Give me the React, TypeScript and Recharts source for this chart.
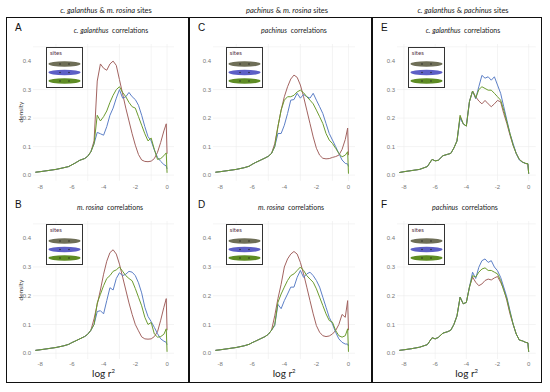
import React from "react";
import { LineChart, Line, XAxis, YAxis, CartesianGrid } from "recharts";

// x positions (log r^2) at which the density curves were read
const logR2 = [-8.3, -8, -7.5, -7, -6.5, -6.2, -6, -5.8, -5.5, -5.2, -5, -4.8, -4.6, -4.4, -4.2, -4, -3.8, -3.6, -3.4, -3.2, -3, -2.8, -2.6, -2.4, -2.2, -2, -1.8, -1.6, -1.4, -1.2, -1, -0.8, -0.6, -0.4, -0.2, -0.05, 0];

const xTicks = [-8, -6, -4, -2, 0];
const yTicks = [0, 0.1, 0.2, 0.3, 0.4];

// A: c. galanthus correlations (c. galanthus & m. rosina sites)
const aBrown = [0.010, 0.012, 0.016, 0.020, 0.026, 0.030, 0.036, 0.042, 0.052, 0.058, 0.066, 0.082, 0.12, 0.33, 0.39, 0.375, 0.368, 0.39, 0.40, 0.385, 0.335, 0.285, 0.235, 0.19, 0.145, 0.105, 0.072, 0.053, 0.048, 0.047, 0.049, 0.058, 0.08, 0.115, 0.155, 0.18, 0.075];
const aBlue = [0.010, 0.012, 0.016, 0.020, 0.026, 0.030, 0.036, 0.042, 0.052, 0.058, 0.066, 0.082, 0.11, 0.15, 0.145, 0.14, 0.17, 0.21, 0.235, 0.27, 0.30, 0.27, 0.275, 0.29, 0.275, 0.265, 0.245, 0.21, 0.17, 0.135, 0.12, 0.088, 0.062, 0.048, 0.037, 0.032, 0.022];
const aGreen = [0.010, 0.012, 0.016, 0.020, 0.026, 0.030, 0.036, 0.042, 0.052, 0.058, 0.066, 0.082, 0.11, 0.21, 0.19, 0.205, 0.225, 0.255, 0.28, 0.30, 0.31, 0.29, 0.275, 0.255, 0.24, 0.235, 0.205, 0.175, 0.145, 0.12, 0.13, 0.09, 0.055, 0.058, 0.068, 0.078, 0.008];

// B: m. rosina correlations (c. galanthus & m. rosina sites)
const bBrown = [0.010, 0.012, 0.016, 0.020, 0.026, 0.031, 0.037, 0.042, 0.050, 0.058, 0.066, 0.080, 0.12, 0.17, 0.22, 0.275, 0.32, 0.35, 0.36, 0.345, 0.31, 0.265, 0.22, 0.175, 0.135, 0.10, 0.078, 0.057, 0.05, 0.049, 0.05, 0.058, 0.075, 0.115, 0.16, 0.19, 0.08];
const bBlue = [0.010, 0.012, 0.016, 0.020, 0.026, 0.031, 0.037, 0.042, 0.050, 0.058, 0.066, 0.080, 0.10, 0.145, 0.148, 0.137, 0.183, 0.228, 0.22, 0.26, 0.28, 0.27, 0.275, 0.285, 0.282, 0.27, 0.245, 0.21, 0.16, 0.128, 0.11, 0.09, 0.068, 0.05, 0.042, 0.038, 0.03];
const bGreen = [0.010, 0.012, 0.016, 0.020, 0.026, 0.031, 0.037, 0.042, 0.050, 0.058, 0.066, 0.080, 0.10, 0.175, 0.205, 0.235, 0.26, 0.27, 0.285, 0.29, 0.30, 0.285, 0.27, 0.26, 0.252, 0.225, 0.195, 0.165, 0.125, 0.10, 0.107, 0.067, 0.056, 0.058, 0.066, 0.085, 0.005];

// C: pachinus correlations (pachinus & m. rosina sites)
const cBrown = [0.010, 0.012, 0.016, 0.020, 0.026, 0.031, 0.038, 0.044, 0.052, 0.060, 0.066, 0.076, 0.11, 0.17, 0.228, 0.275, 0.31, 0.337, 0.351, 0.343, 0.316, 0.275, 0.228, 0.181, 0.134, 0.094, 0.07, 0.059, 0.057, 0.058, 0.062, 0.065, 0.07, 0.09, 0.125, 0.165, 0.07];
const cBlue = [0.010, 0.012, 0.016, 0.020, 0.026, 0.031, 0.038, 0.044, 0.052, 0.060, 0.066, 0.076, 0.10, 0.146, 0.146, 0.175, 0.216, 0.263, 0.265, 0.287, 0.27, 0.283, 0.275, 0.27, 0.287, 0.263, 0.24, 0.216, 0.181, 0.146, 0.123, 0.10, 0.076, 0.053, 0.041, 0.039, 0.03];
const cGreen = [0.010, 0.012, 0.016, 0.020, 0.026, 0.031, 0.038, 0.044, 0.052, 0.060, 0.066, 0.076, 0.10, 0.17, 0.228, 0.263, 0.275, 0.275, 0.28, 0.292, 0.298, 0.289, 0.275, 0.263, 0.25, 0.228, 0.205, 0.181, 0.146, 0.123, 0.111, 0.094, 0.076, 0.064, 0.07, 0.082, 0.005];

// D: m. rosina correlations (pachinus & m. rosina sites)
const dBrown = [0.010, 0.012, 0.016, 0.020, 0.026, 0.031, 0.037, 0.042, 0.050, 0.058, 0.066, 0.080, 0.13, 0.19, 0.24, 0.30, 0.328, 0.345, 0.354, 0.345, 0.316, 0.276, 0.23, 0.183, 0.137, 0.096, 0.073, 0.061, 0.058, 0.06, 0.067, 0.079, 0.10, 0.135, 0.125, 0.183, 0.08];
const dBlue = [0.010, 0.012, 0.016, 0.020, 0.026, 0.031, 0.037, 0.042, 0.050, 0.058, 0.066, 0.080, 0.096, 0.17, 0.155, 0.183, 0.206, 0.23, 0.23, 0.264, 0.288, 0.264, 0.276, 0.282, 0.27, 0.253, 0.23, 0.195, 0.16, 0.125, 0.102, 0.073, 0.05, 0.038, 0.032, 0.032, 0.025];
const dGreen = [0.010, 0.012, 0.016, 0.020, 0.026, 0.031, 0.037, 0.042, 0.050, 0.058, 0.066, 0.080, 0.10, 0.177, 0.206, 0.23, 0.253, 0.27, 0.276, 0.288, 0.30, 0.288, 0.27, 0.258, 0.247, 0.224, 0.195, 0.166, 0.137, 0.114, 0.108, 0.079, 0.061, 0.056, 0.061, 0.085, 0.005];

// E: c. galanthus correlations (c. galanthus & pachinus sites)
const eBrown = [0.009, 0.012, 0.016, 0.020, 0.030, 0.055, 0.050, 0.052, 0.068, 0.073, 0.076, 0.095, 0.12, 0.205, 0.18, 0.172, 0.258, 0.295, 0.275, 0.26, 0.25, 0.262, 0.25, 0.24, 0.25, 0.262, 0.257, 0.216, 0.181, 0.14, 0.105, 0.076, 0.055, 0.046, 0.041, 0.038, 0.005];
const eBlue = [0.009, 0.012, 0.016, 0.020, 0.030, 0.055, 0.050, 0.052, 0.068, 0.073, 0.076, 0.095, 0.12, 0.20, 0.18, 0.172, 0.258, 0.295, 0.268, 0.31, 0.35, 0.34, 0.345, 0.333, 0.345, 0.316, 0.287, 0.24, 0.193, 0.146, 0.111, 0.076, 0.053, 0.045, 0.041, 0.04, 0.005];
const eGreen = [0.009, 0.012, 0.016, 0.020, 0.030, 0.055, 0.050, 0.052, 0.068, 0.073, 0.076, 0.095, 0.12, 0.21, 0.18, 0.172, 0.258, 0.295, 0.27, 0.30, 0.31, 0.304, 0.298, 0.298, 0.287, 0.275, 0.263, 0.228, 0.187, 0.146, 0.105, 0.076, 0.055, 0.046, 0.041, 0.04, 0.005];

// F: pachinus correlations (c. galanthus & pachinus sites)
const fBrown = [0.010, 0.012, 0.016, 0.021, 0.030, 0.054, 0.050, 0.055, 0.070, 0.075, 0.080, 0.100, 0.13, 0.195, 0.172, 0.177, 0.23, 0.265, 0.247, 0.235, 0.241, 0.253, 0.258, 0.255, 0.262, 0.267, 0.247, 0.224, 0.183, 0.137, 0.10, 0.067, 0.046, 0.043, 0.038, 0.036, 0.005];
const fBlue = [0.010, 0.012, 0.016, 0.021, 0.030, 0.054, 0.050, 0.055, 0.070, 0.075, 0.080, 0.100, 0.13, 0.195, 0.172, 0.177, 0.23, 0.282, 0.26, 0.299, 0.322, 0.328, 0.316, 0.322, 0.30, 0.287, 0.264, 0.23, 0.195, 0.148, 0.102, 0.067, 0.046, 0.043, 0.038, 0.036, 0.005];
const fGreen = [0.010, 0.012, 0.016, 0.021, 0.030, 0.054, 0.050, 0.055, 0.070, 0.075, 0.080, 0.100, 0.13, 0.195, 0.172, 0.177, 0.23, 0.27, 0.265, 0.282, 0.293, 0.297, 0.288, 0.288, 0.282, 0.276, 0.253, 0.218, 0.189, 0.143, 0.102, 0.067, 0.046, 0.043, 0.038, 0.036, 0.005];

const BROWN = "#a2625f";
const BLUE = "#5b7ec6";
const GREEN = "#6b9b2e";

const rows = (brown: number[], blue: number[], green: number[]) =>
  logR2.map((x, i) => ({ x, brown: brown[i], blue: blue[i], green: green[i] }));

const TITLE_FONT = "Lato, 'Open Sans', sans-serif";
const TICK_FONT = "'Liberation Sans', Arial, sans-serif";
const YW = 24;
const XH = 14;

function Sp({ name, rest }: { name: string; rest: string }) {
  return (
    <>
      <i>{name}</i>
      <span style={{ whiteSpace: "pre" }}>{rest}</span>
    </>
  );
}

function Legend({ left, top }: { left: number; top: number }) {
  const fills = ["#6e6e57", "#5d5fc6", "#5e8c24"];
  return (
    <div
      style={{
        position: "absolute", left, top, width: 37, height: 41,
        border: "1px solid #333", background: "#fff", boxSizing: "border-box",
      }}
    >
      <div style={{ position: "absolute", left: 3, top: 1, fontSize: 6, color: "#553344", fontFamily: TITLE_FONT }}>
        sites
      </div>
      <svg width={37} height={41} style={{ position: "absolute", left: -1, top: -1 }}>
        {fills.map((f, i) => (
          <g key={f}>
            <ellipse cx={18.5} cy={17 + i * 8.5} rx={16} ry={2.7} fill={f} />
            <circle cx={14} cy={17 + i * 8.5} r={0.7} fill="#222" />
            <circle cx={23} cy={17 + i * 8.5} r={0.7} fill="#222" />
          </g>
        ))}
      </svg>
    </div>
  );
}

interface PanelProps {
  letter: string;
  title: React.ReactNode;
  titleX: number;
  L: number;
  R: number;
  T: number;
  B: number;
  brown: number[];
  blue: number[];
  green: number[];
  density?: boolean;
  xLabel?: boolean;
  legendDx: number;
  tickGap: number;
}

function Panel(p: PanelProps) {
  const data = rows(p.brown, p.blue, p.green);
  const width = p.R - p.L + YW;
  const height = p.B - p.T + XH;
  const frameLeft = p.L < 190 ? 6 : p.L < 380 ? 189 : 372;
  return (
    <>
      <div style={{ position: "absolute", left: frameLeft + 9, top: p.T - 17, fontSize: 10, fontFamily: TICK_FONT, color: "#111", transform: "translateY(-50%)" }}>
        {p.letter}
      </div>
      <div
        style={{
          position: "absolute", left: p.titleX, top: p.T - 14, transform: "translate(-50%, -50%)",
          fontSize: 7, fontFamily: TITLE_FONT, color: "#222", whiteSpace: "nowrap",
        }}
      >
        {p.title}
      </div>
      <div style={{ position: "absolute", left: p.L - YW, top: p.T }}>
        <LineChart width={width} height={height} data={data} margin={{ top: 0, right: 0, bottom: 0, left: 0 }}>
          <CartesianGrid
            stroke="#ececec"
            strokeWidth={0.6}
            horizontalValues={[0, 0.05, 0.1, 0.15, 0.2, 0.25, 0.3, 0.35, 0.4, 0.45]}
            verticalValues={[-8, -7, -6, -5, -4, -3, -2, -1, 0]}
          />
          <XAxis
            dataKey="x"
            type="number"
            domain={[-8.45, 0.45]}
            ticks={xTicks}
            height={XH}
            axisLine={false}
            tickLine={false}
            tickSize={0}
            tickMargin={p.tickGap}
            tick={{ fontSize: 6, fill: "#777", fontFamily: TICK_FONT }}
            allowDataOverflow
          />
          <YAxis
            type="number"
            domain={[-0.02, 0.46]}
            ticks={yTicks}
            width={YW}
            axisLine={false}
            tickLine={false}
            tickSize={0}
            tickMargin={2}
            tickFormatter={(v: number) => v.toFixed(1)}
            tick={{ fontSize: 6, fill: "#777", fontFamily: TICK_FONT }}
            allowDataOverflow
          />
          <Line dataKey="brown" stroke={BROWN} strokeWidth={1} dot={false} isAnimationActive={false} />
          <Line dataKey="blue" stroke={BLUE} strokeWidth={1} dot={false} isAnimationActive={false} />
          <Line dataKey="green" stroke={GREEN} strokeWidth={1} dot={false} isAnimationActive={false} />
        </LineChart>
      </div>
      <Legend left={p.L + p.legendDx} top={p.T + 3} />
      {p.density && (
        <div
          style={{
            position: "absolute", left: 20, top: (p.T + p.B) / 2, transform: "translate(-50%, -50%) rotate(-90deg)",
            fontSize: 6.5, fontFamily: TITLE_FONT, color: "#333",
          }}
        >
          density
        </div>
      )}
      {p.xLabel && (
        <div
          style={{
            position: "absolute", left: (p.L + p.R) / 2, top: 373, transform: "translate(-50%, -50%)",
            fontSize: 10, fontFamily: TITLE_FONT, color: "#222", whiteSpace: "nowrap",
          }}
        >
          log r<sup style={{ fontSize: 6, verticalAlign: "super", lineHeight: 0 }}>2</sup>
        </div>
      )}
    </>
  );
}

export default function App() {
  const colTitle = (left: number, content: React.ReactNode) => (
    <div
      style={{
        position: "absolute", left, top: 10, transform: "translate(-50%, -50%)",
        fontSize: 7.5, fontFamily: TITLE_FONT, color: "#222", whiteSpace: "nowrap",
      }}
    >
      {content}
    </div>
  );
  const topT = 43.9, topB = 180.7, botT = 220.5, botB = 358.5;
  return (
    <div style={{ position: "absolute", left: 0, top: 0, width: 550, height: 392, background: "#fff", overflow: "hidden" }}>
      {colTitle(106, <><i>c. galanthus</i>{"  &  "}<i>m. rosina</i> sites</>)}
      {colTitle(287, <><i>pachinus</i>{"  &  "}<i>m. rosina</i> sites</>)}
      {colTitle(463, <><i>c. galanthus</i>{"  &  "}<i>pachinus</i> sites</>)}

      <Panel letter="A" title={<Sp name="c. galanthus" rest="  correlations" />} titleX={111}
        L={32.9} R={174.1} T={topT} B={topB} brown={aBrown} blue={aBlue} green={aGreen} density legendDx={13} tickGap={4} />
      <Panel letter="B" title={<Sp name="m. rosina" rest="  correlations" />} titleX={110}
        L={32.9} R={174.1} T={botT} B={botB} brown={bBrown} blue={bBlue} green={bGreen} density xLabel legendDx={13} tickGap={2.5} />
      <Panel letter="C" title={<Sp name="pachinus" rest="  correlations" />} titleX={294}
        L={212.8} R={355.5} T={topT} B={topB} brown={cBrown} blue={cBlue} green={cGreen} legendDx={13} tickGap={4} />
      <Panel letter="D" title={<Sp name="m. rosina" rest="  correlations" />} titleX={291}
        L={212.8} R={355.5} T={botT} B={botB} brown={dBrown} blue={dBlue} green={dGreen} xLabel legendDx={13} tickGap={2.5} />
      <Panel letter="E" title={<Sp name="c. galanthus" rest="  correlations" />} titleX={463}
        L={397.3} R={536} T={topT} B={topB} brown={eBrown} blue={eBlue} green={eGreen} legendDx={10.5} tickGap={4} />
      <Panel letter="F" title={<Sp name="pachinus" rest="  correlations" />} titleX={465}
        L={397.3} R={536} T={botT} B={botB} brown={fBrown} blue={fBlue} green={fGreen} xLabel legendDx={10.5} tickGap={2.5} />

      {/* frame */}
      <div style={{ position: "absolute", left: 5.5, top: 17.3, width: 536, height: 365.5, border: "1.5px solid #111", boxSizing: "border-box" }} />
      <div style={{ position: "absolute", left: 188.3, top: 17.3, width: 1.5, height: 365.5, background: "#111" }} />
      <div style={{ position: "absolute", left: 371.3, top: 17.3, width: 1.5, height: 365.5, background: "#111" }} />
    </div>
  );
}
